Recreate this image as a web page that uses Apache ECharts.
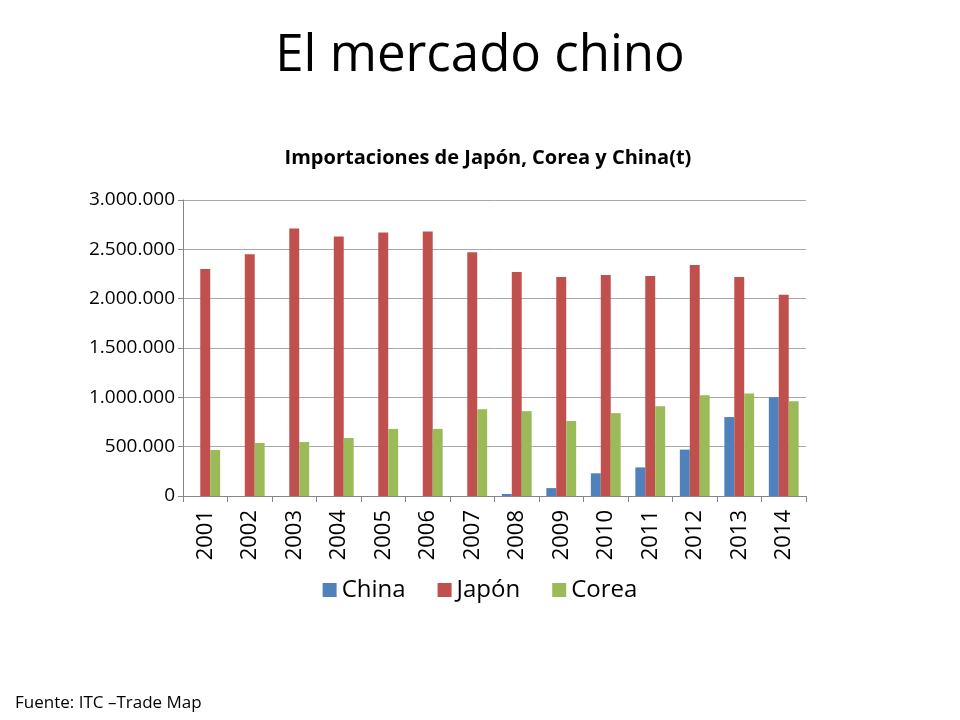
<!DOCTYPE html>
<html>
<head>
<meta charset="utf-8">
<script src="https://cdn.jsdelivr.net/npm/echarts@6/dist/echarts.min.js"></script>
</head>
<body style="margin:0">
<div id="main" style="width:960px;height:720px;"></div>
<script>
var years = ['2001','2002','2003','2004','2005','2006','2007','2008','2009','2010','2011','2012','2013','2014'];
var china = [0,0,0,0,0,0,0,20000,80000,230000,290000,470000,800000,1000000];
var japon = [2300000,2450000,2710000,2630000,2670000,2680000,2470000,2270000,2220000,2240000,2230000,2340000,2220000,2040000];
var corea = [466000,537000,547000,588000,680000,680000,880000,860000,760000,840000,910000,1020000,1040000,960000];

var myChart = echarts.init(document.getElementById('main'));
var font = 'Open Sans';
function fmt(v) { return String(v).replace(/\B(?=(\d{3})+(?!\d))/g, '.'); }
var option = {
    backgroundColor: '#ffffff',
    textStyle: { fontFamily: font },
    title: [
        { text: 'El mercado chino', left: 'center', top: 26, textStyle: { fontFamily: font, fontSize: 51, fontWeight: 'normal', color: '#000' } },
        { text: 'Importaciones de Japón, Corea y China(t)', left: 483, textAlign: 'center', top: 143, textStyle: { fontFamily: font, fontSize: 20, fontWeight: 'bold', color: '#000' } },
        { text: 'Fuente: ITC –Trade Map', left: 10, top: 690, textStyle: { fontFamily: font, fontSize: 17, fontWeight: 'normal', color: '#000' } }
    ],
    legend: {
        top: 573, left: 'center', itemWidth: 14, itemHeight: 14, itemGap: 32, icon: 'rect',
        textStyle: { fontSize: 24, color: '#000' },
        data: ['China', 'Japón', 'Corea']
    },
    grid: { left: 183, right: 154, top: 200, height: 296 },
    xAxis: {
        type: 'category', data: years,
        axisLine: { lineStyle: { color: '#868686' } },
        axisTick: { show: true, length: 6, interval: 0, lineStyle: { color: '#868686' } },
        axisLabel: { rotate: 90, fontSize: 22, color: '#000', margin: 14, interval: 0 }
    },
    yAxis: {
        type: 'value', min: 0, max: 3000000, interval: 500000,
        axisLine: { show: true, lineStyle: { color: '#868686' } },
        axisTick: { show: true, lineStyle: { color: '#868686' } },
        splitLine: { lineStyle: { color: '#a8a8a8' } },
        axisLabel: { fontSize: 19, color: '#000', formatter: fmt }
    },
    series: [
        { name: 'China', type: 'bar', data: china, barGap: '0%', barCategoryGap: '33%', itemStyle: { color: '#4F81BD' } },
        { name: 'Japón', type: 'bar', data: japon, itemStyle: { color: '#C0504D' } },
        { name: 'Corea', type: 'bar', data: corea, itemStyle: { color: '#9BBB59' } }
    ]
};
myChart.setOption(option);
</script>
</body>
</html>
